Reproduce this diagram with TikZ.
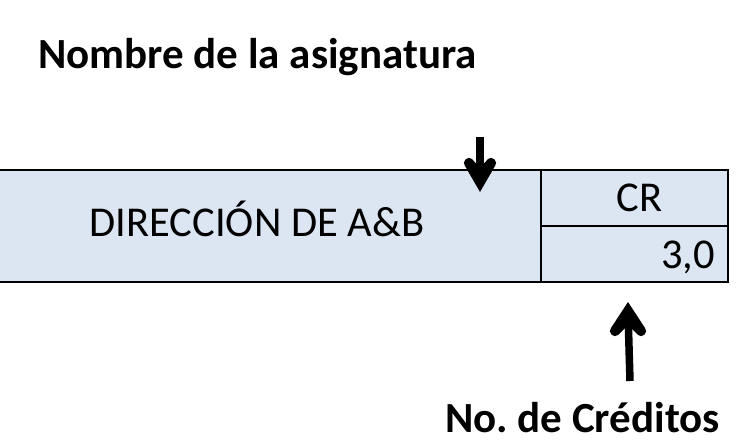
\documentclass[tikz,border=0pt]{standalone}
\usepackage{fontspec}
\setmainfont{Carlito}
\usetikzlibrary{calc}
\begin{document}
\begin{tikzpicture}[x=1pt,y=-1pt]
\definecolor{boxblue}{HTML}{DCE6F2}
\tikzset{rule/.style={line width=2.5pt},
  shaft/.style={line width=7.5pt},
  txt/.style={font=\fontsize{42.5}{48}\selectfont,inner sep=0pt},
  bold/.style={font=\bfseries\fontsize{43}{48}\selectfont,inner sep=0pt}}
\useasboundingbox (0,0) rectangle (737,446);
\fill[boxblue] (0,170) rectangle (728,282);
\draw[rule] (-5,170) -- (728,170) -- (728,282) -- (-5,282);
\draw[rule] (541,170) -- (541,282);
\draw[rule] (541,226) -- (728,226);
\node[bold,anchor=base west] (title) at (38,69) {Nombre de la asignatura};
\node[txt,anchor=base] (name) at (257,237) {DIRECCIÓN DE A\&B};
\node[txt,anchor=base] (cr) at (639.5,212) {CR};
\node[txt,anchor=base east] (val) at (715,269) {3,0};
\node[bold,anchor=base east] (cred) at (720,433) {No.\ de Créditos};
\coordinate (a1) at (480,137);
\coordinate (a1t) at (480,192);
\draw[shaft] (a1) -- ($(a1t)+(0,-10)$);
\fill (a1t) -- (465,166) .. controls (461,162) and (468,155) .. (472,159) -- (480,168) -- (488,159) .. controls (492,155) and (499,162) .. (495,166) -- cycle;
\coordinate (a2) at (630,381);
\coordinate (a2t) at (628,302);
\draw[shaft] (a2) -- ($(a2t)+(0,10)$);
\fill (a2t) -- (611,328) .. controls (607,332) and (614,339) .. (618,335) -- (628,325) -- (638,335) .. controls (642,339) and (649,332) .. (645,328) -- cycle;
\end{tikzpicture}
\end{document}
